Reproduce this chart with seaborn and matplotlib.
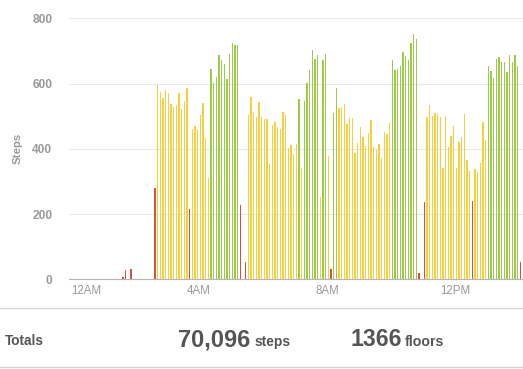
import matplotlib
matplotlib.use("Agg")
import matplotlib.pyplot as plt
from matplotlib.lines import Line2D
import seaborn as sns
import pandas as pd

# Steps per 5-minute interval, one row per hour (12 values each), starting 12AM
steps = [
    0, 0, 0, 0, 0, 0, 0, 0, 0, 0, 0, 0,
    0, 0, 0, 0, 0, 0, 0, 8, 29, 0, 33, 0,
    0, 0, 0, 0, 0, 0, 0, 279, 595, 573, 557, 580,
    570, 537, 528, 534, 570, 522, 546, 587, 215, 461, 471, 458,
    503, 541, 432, 310, 644, 601, 621, 687, 672, 659, 614, 692,
    723, 718, 718, 228, 0, 54, 504, 560, 512, 498, 544, 496,
    492, 492, 353, 473, 481, 466, 461, 512, 503, 403, 412, 384,
    415, 553, 342, 546, 601, 641, 703, 675, 689, 253, 672, 692,
    378, 31, 511, 585, 524, 527, 537, 476, 493, 493, 388, 419,
    468, 437, 408, 447, 488, 406, 396, 415, 373, 453, 444, 480,
    672, 643, 646, 654, 698, 684, 672, 725, 752, 738, 18, 0,
    236, 498, 534, 501, 509, 506, 496, 340, 500, 406, 439, 471,
    340, 422, 437, 506, 366, 333, 240, 338, 330, 358, 483, 427,
    654, 638, 616, 674, 680, 665, 667, 636, 689, 665, 689, 654,
    54,
]
# Activity level of each interval (L = light, M = moderate, H = high)
intensity = (
    "LLLLLLLLLLLL"
    "LLLLLLLLLLLL"
    "LLLLLLLLMMMM"
    "MMMMMMMMLMMM"
    "MMMMHHHHHHHH"
    "HHHLLLMMMMMM"
    "MMMMMMMMMMMM"
    "MHMHHHHHHMHH"
    "MLHHMMMMMMMM"
    "MMMMMMMMMMMM"
    "HHHHHHHHHHLL"
    "LMMMMMMMMMMM"
    "MMMMMMLMMMMM"
    "HHHHHHHHHHHH"
    "L"
)
tick_minutes = [0, 240, 480, 720]
tick_labels = ["12AM", "4AM", "8AM", "12PM"]
y_ticks = [0, 200, 400, 600, 800]
total_steps = "70,096"
total_floors = "1366"

df = pd.DataFrame({
    "minute": [5 * i + 2.5 for i in range(len(steps))],
    "steps": steps,
    "level": list(intensity),
})
df = df[df["steps"] > 0]

sns.set_style("white")
plt.rcParams["font.family"] = ["Liberation Sans", "DejaVu Sans"]

W, H = 523, 369
fig = plt.figure(figsize=(W / 100, H / 100), dpi=100)
fig.patch.set_facecolor("white")
ax = fig.add_axes([69 / W, (H - 279.3) / H, (W - 69) / W, (279.3 - 18.3) / H])

palette = {"L": "#d6513f", "M": "#f5cf3c", "H": "#9dcb47"}
sns.barplot(data=df, x="minute", y="steps", hue="level", palette=palette,
            native_scale=True, dodge=False, width=0.55, saturation=1,
            errorbar=None, legend=False, linewidth=0, ax=ax)

ax.set_xlim(-3.75, 847.5)
ax.set_ylim(0, 800)
ax.set_axisbelow(True)
ax.yaxis.grid(True, color="#e8e8e8", linewidth=0.8)
ax.xaxis.grid(False)
for s in ["left", "top", "right"]:
    ax.spines[s].set_visible(False)
ax.spines["bottom"].set_color("#b5b5b5")
ax.spines["bottom"].set_linewidth(0.8)

ax.set_xticks(tick_minutes)
ax.set_xticklabels(tick_labels, color="#999999", fontsize=8.3)
ax.get_xticklabels()[0].set_horizontalalignment("left")
ax.set_yticks(y_ticks)
ax.set_yticklabels([str(v) for v in y_ticks], color="#999999",
                   fontsize=8.6, fontweight="bold")
ax.tick_params(axis="x", length=0, pad=4)
ax.tick_params(axis="y", length=0, pad=12)
ax.set_xlabel("")
ax.set_ylabel("")
fig.text(18 / W, 1 - 148.8 / H, "Steps", rotation=90, ha="center",
         va="center", color="#999999", fontsize=8.2, fontweight="bold")

# Totals panel
for yy in (308.3, 367.3):
    fig.add_artist(Line2D([0, 1], [1 - yy / H, 1 - yy / H],
                          transform=fig.transFigure, color="#d4d4d4", lw=1))
dark = "#555555"
fig.text(5 / W, 1 - 340.7 / H, "Totals", ha="left", va="center",
         color=dark, fontsize=9.8, fontweight="bold")
base = 1 - 346 / H
fig.text(177.7 / W, base, total_steps, ha="left", va="baseline",
         color=dark, fontsize=17, fontweight="bold")
fig.text(255 / W, base, "steps", ha="left", va="baseline",
         color=dark, fontsize=9.9, fontweight="bold")
fig.text(350.7 / W, base, total_floors, ha="left", va="baseline",
         color=dark, fontsize=16.6, fontweight="bold")
fig.text(405 / W, base, "floors", ha="left", va="baseline",
         color=dark, fontsize=10.2, fontweight="bold")

fig.savefig("out.png", dpi=100, facecolor="white")
